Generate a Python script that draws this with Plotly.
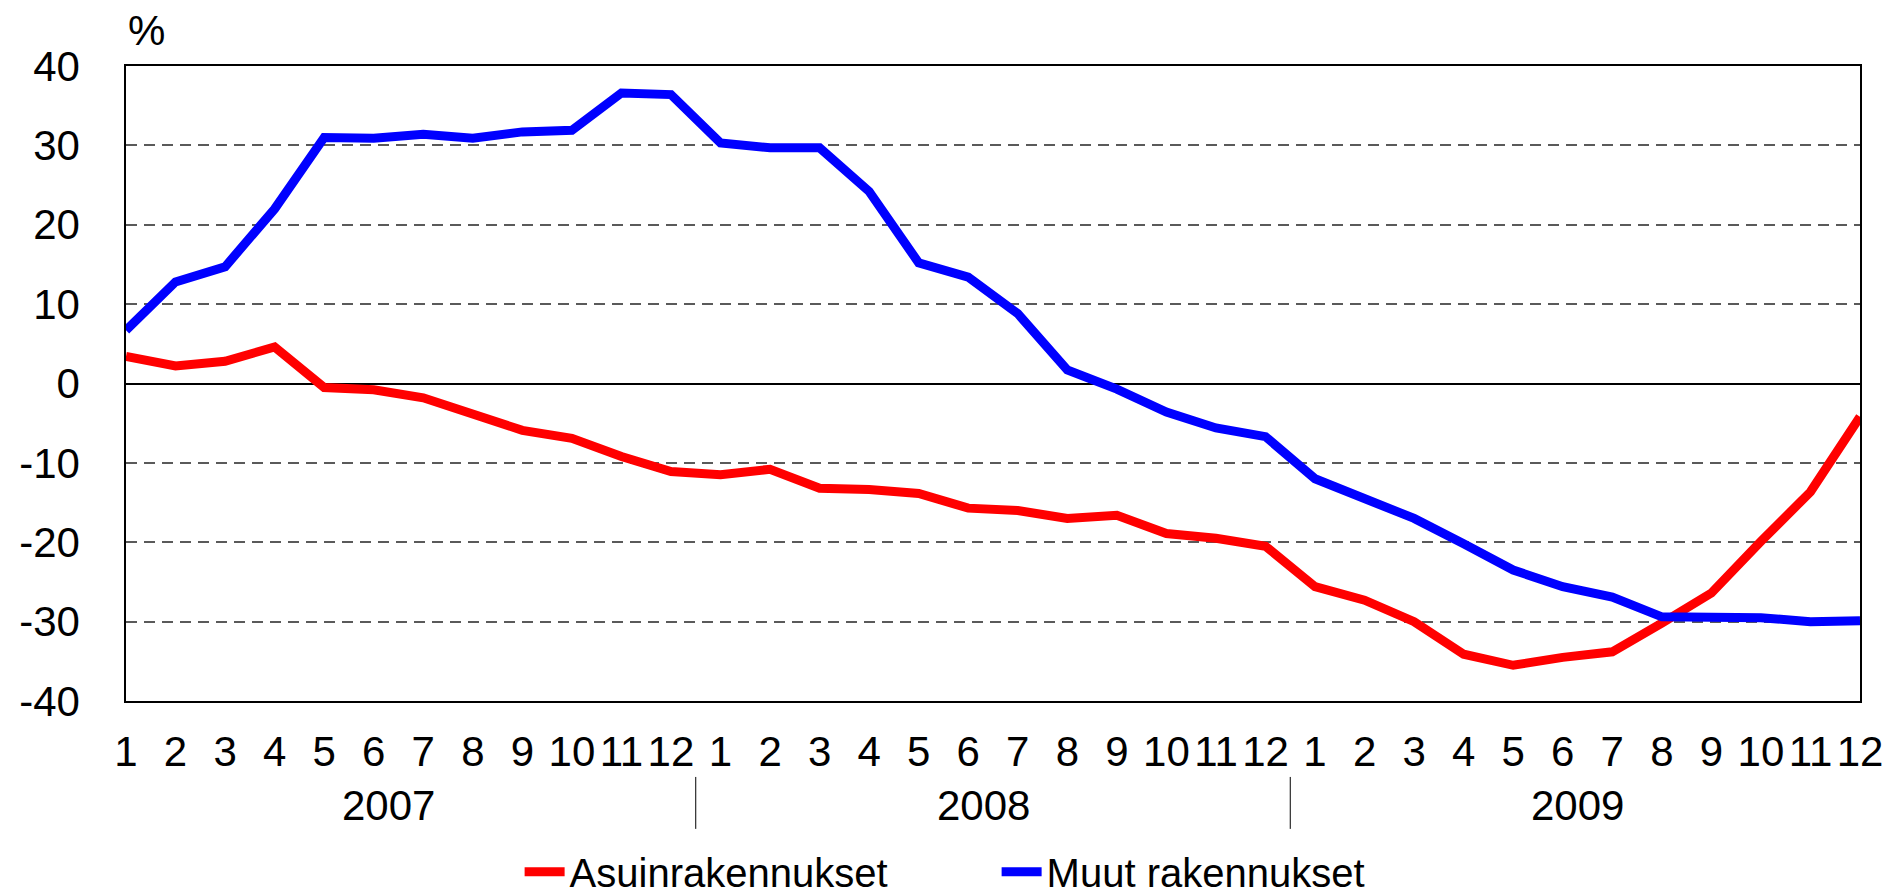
import plotly.graph_objects as go

years = ["2007", "2008", "2009"]
months = [str(m) for m in range(1, 13)] * 3

asuin = [3.4, 2.2, 2.8, 4.6, -0.5, -0.8, -1.8, -3.8, -5.9, -6.9, -9.2, -11.1,
         -11.5, -10.8, -13.2, -13.35, -13.85, -15.7, -16.0, -17.0, -16.6, -18.9, -19.5, -20.5,
         -25.6, -27.3, -30.0, -34.1, -35.5, -34.5, -33.8, -30.2, -26.4, -19.9, -13.65, -4.2]
muut = [6.7, 12.8, 14.7, 22.0, 31.0, 30.9, 31.4, 30.9, 31.7, 31.9, 36.6, 36.4,
        30.3, 29.7, 29.7, 24.2, 15.2, 13.4, 8.8, 1.7, -0.7, -3.6, -5.6, -6.7,
        -12.0, -14.5, -17.0, -20.2, -23.5, -25.6, -26.9, -29.4, -29.4, -29.5, -30.0, -29.9]

y_ticks = [-40, -30, -20, -10, 0, 10, 20, 30, 40]
y_labels = [str(v) for v in y_ticks]

xpos = list(range(len(months)))
FONT = "Liberation Sans, Arial, sans-serif"

fig = go.Figure()
fig.add_trace(go.Scatter(x=xpos, y=asuin, mode="lines", name="Asuinrakennukset",
                         line=dict(color="#FF0000", width=9)))
fig.add_trace(go.Scatter(x=xpos, y=muut, mode="lines", name="Muut rakennukset",
                         line=dict(color="#0000FF", width=9)))

# year group labels and separators
for i, yr in enumerate(years):
    fig.add_annotation(x=i * 12 + 5.5, y=-0.165, xref="x", yref="paper", text=yr,
                       showarrow=False, xshift=-10,
                       font=dict(size=42, color="black", family=FONT),
                       yanchor="middle")
for i in range(1, len(years)):
    fig.add_shape(type="line", xref="x", yref="paper", x0=i * 12 - 0.5, x1=i * 12 - 0.5,
                  y0=-0.1196, y1=-0.2014, line=dict(color="black", width=1))

fig.add_annotation(x=0, y=1, xref="paper", yref="paper", text="%", showarrow=False,
                   xanchor="left", yanchor="bottom", xshift=0, yshift=10,
                   font=dict(size=42, color="black", family=FONT))

fig.update_layout(
    width=1893, height=896,
    margin=dict(l=118, r=41, t=57.5, b=203, autoexpand=False),
    paper_bgcolor="white", plot_bgcolor="white",
    font=dict(family=FONT, color="black", size=42),
    showlegend=True,
    legend=dict(orientation="h", x=0.227, xanchor="left", y=-0.269, yanchor="middle",
                font=dict(size=40, family=FONT), itemwidth=40, entrywidth=422,
                bgcolor="rgba(0,0,0,0)"),
    xaxis=dict(range=[0, len(months) - 1], tickvals=xpos, ticktext=months,
               showgrid=False, zeroline=False, showline=True, linecolor="black", linewidth=1.5,
               mirror=True, ticks="", ticklabelstandoff=13, automargin=False,
               tickfont=dict(size=42, family=FONT)),
    yaxis=dict(range=[-40, 40], tickvals=y_ticks, ticktext=y_labels,
               showgrid=True, gridcolor="#5a5a5a", gridwidth=1.5, griddash="11px,7px",
               zeroline=True, zerolinecolor="black", zerolinewidth=1.5,
               showline=True, linecolor="black", linewidth=1.5, mirror=True,
               ticks="", ticklabelstandoff=36, automargin=False,
               tickfont=dict(size=42, family=FONT)),
)

fig.write_html("out.html")
